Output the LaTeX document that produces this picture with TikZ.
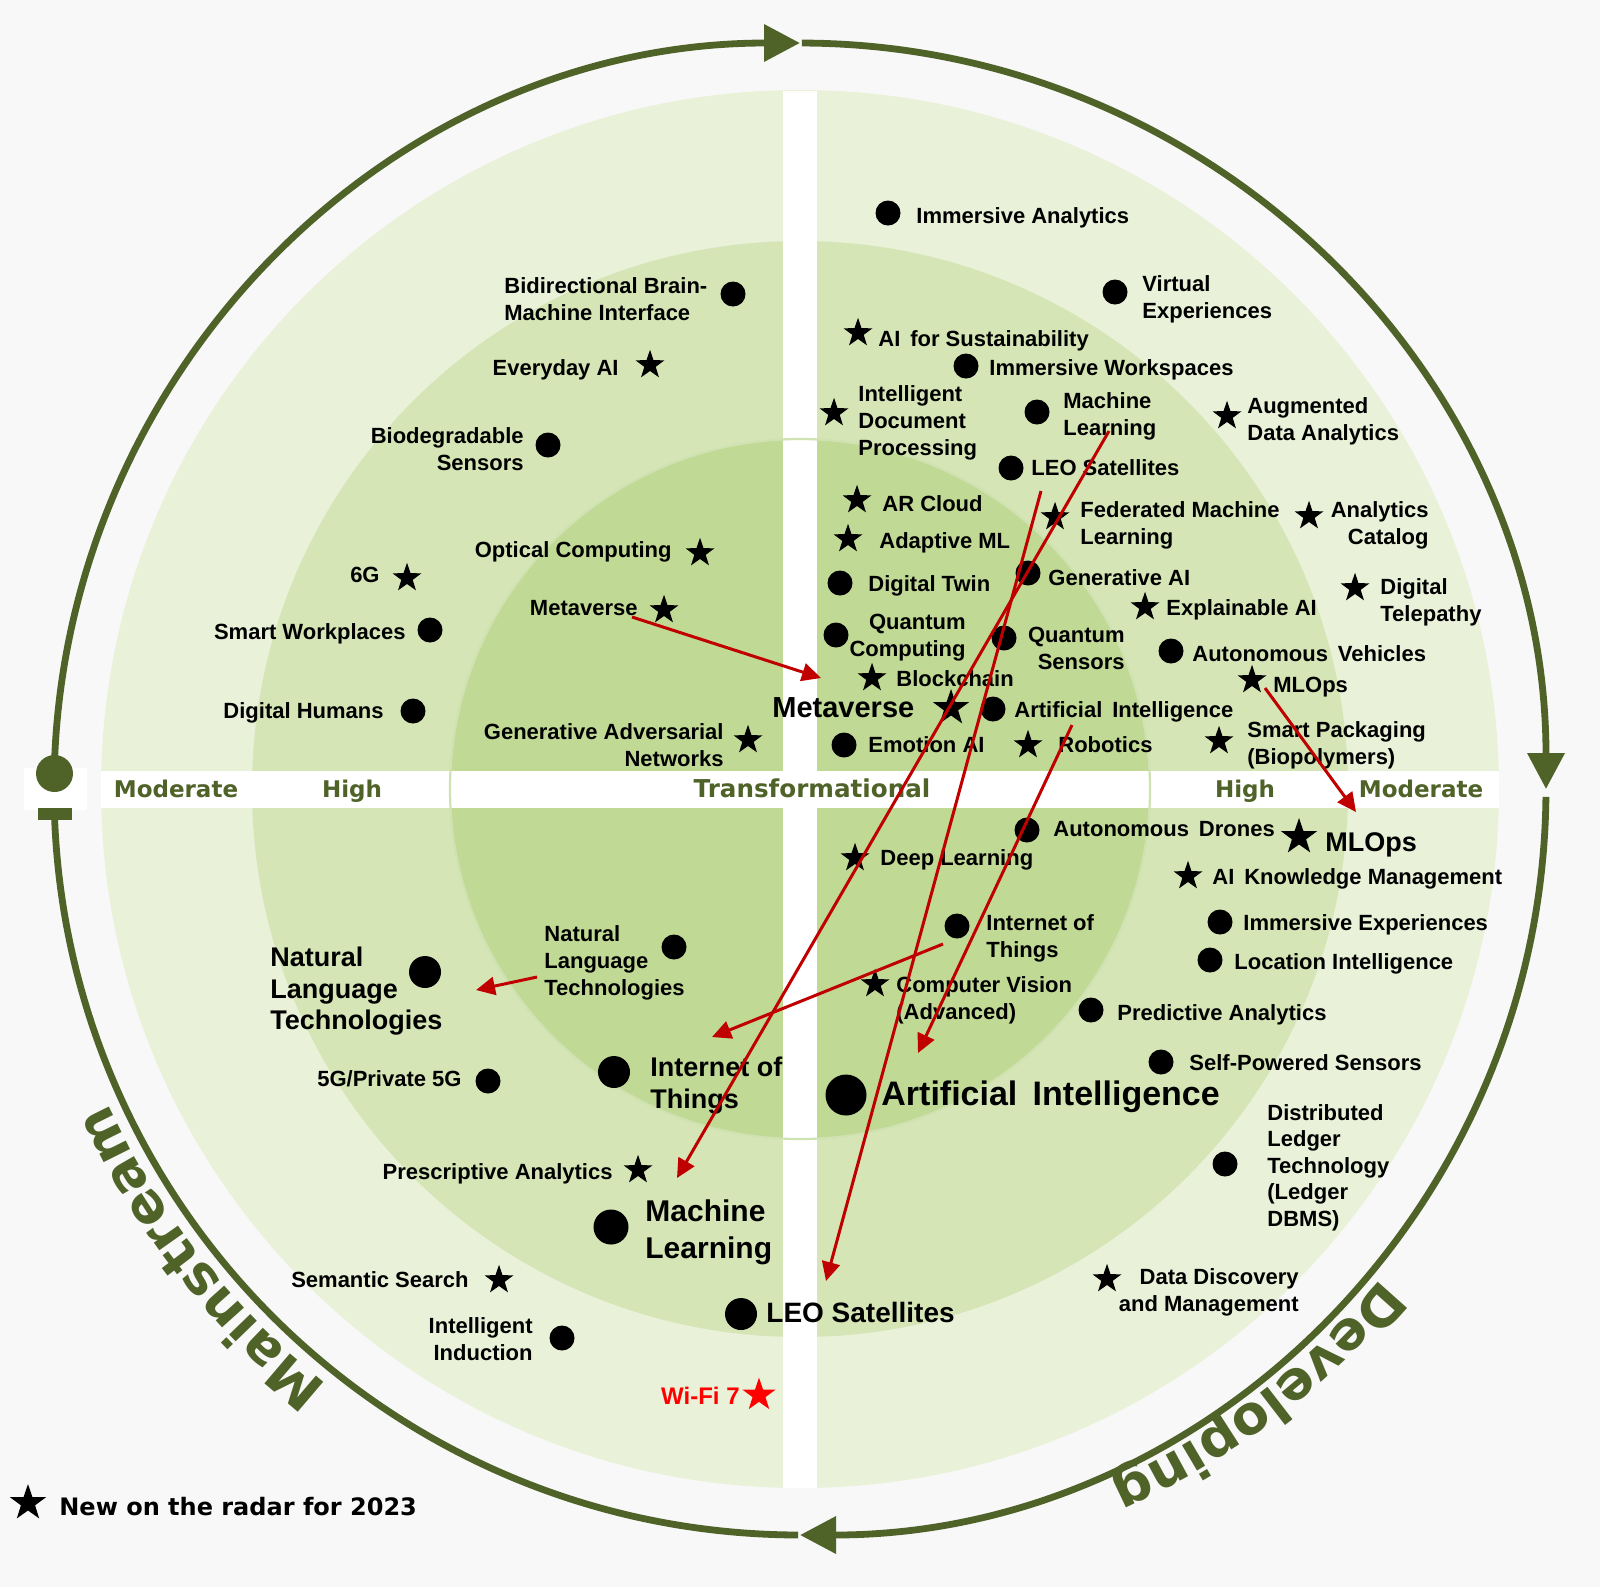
\documentclass[tikz,border=0pt]{standalone}
\usepackage{fontspec}
\setmainfont{Liberation Sans}
\newfontfamily\dvs{DejaVu Sans}
\usetikzlibrary{shapes.geometric,arrows.meta,decorations.text,calc}
\definecolor{bgc}{HTML}{F8F8F8}
\definecolor{ringA}{HTML}{E9F1D9}
\definecolor{ringB}{HTML}{D5E5B6}
\definecolor{ringC}{HTML}{C0D994}
\definecolor{ringEdge}{HTML}{D0E2B2}
\definecolor{dkg}{HTML}{4F6228}
\definecolor{mvred}{HTML}{C00000}
\definecolor{newred}{HTML}{FF0000}
\begin{document}
\begin{tikzpicture}[x=0.5pt,y=0.5pt,
  dot/.style={circle,fill=black,inner sep=0pt,minimum size=12.5pt},
  newstar/.style={star,star points=5,star point ratio=2.55,fill=black,inner sep=0pt,minimum size=15.25pt},
  lbl/.style={font=\fontsize{11}{13.5}\selectfont\bfseries,inner sep=0pt,align=left,anchor=north west},
  lblr/.style={lbl,align=right,anchor=north east},
  bandlbl/.style={font=\dvs\fontsize{11.5}{12}\selectfont\bfseries,text=dkg,inner sep=0pt,anchor=base},
  movearrow/.style={draw=mvred,line width=1.5pt,-{Triangle[length=9.5pt,width=9pt]}},
  ringline/.style={draw=dkg,line width=3.4pt},
  ringtip/.style={-{Triangle[length=18pt,width=18pt]}},
]
\useasboundingbox (0,0) rectangle (1600,-1587);
\fill[bgc] (0,0) rectangle (1600,-1587);
\coordinate (C) at (800,-789);
% zones
\fill[ringA] (C) circle[radius=699];
\fill[ringB] (C) circle[radius=548];
\fill[ringC] (C) circle[radius=350];
\fill[white] (783,-91) rectangle (817,-1488);
\fill[white] (101,-771) rectangle (1499,-808);
\draw[ringEdge,line width=1.1pt] (C) circle[radius=350];
\fill[white] (24,-768) rectangle (87,-810);
% outer ring arrows
\draw[ringline,ringtip] (C) ++(178.8:746) arc[start angle=178.8,end angle=90,radius=746];
\draw[ringline,ringtip] (C) ++(89.85:746) arc[start angle=89.85,end angle=0,radius=746];
\draw[ringline,ringtip] (C) ++(-0.6:746) arc[start angle=-0.6,end angle=-90,radius=746];
\draw[ringline] (C) ++(269.85:746) arc[start angle=269.85,end angle=181.5,radius=746];
\node[circle,fill=dkg,inner sep=0pt,minimum size=18.5pt] (startdot) at (54.5,-773.5) {};
\node[fill=dkg,inner sep=0pt,minimum width=17pt,minimum height=6pt] (endbar) at (55,-814) {};
% curved words
\path[decorate,decoration={text along path,text align=center,text color=dkg,
  text={|\dvs\fontsize{27}{27}\selectfont\bfseries|Mainstream}}]
  ($(C)+(238:760)$) arc[start angle=238,end angle=198,radius=760];
\path[decorate,decoration={text along path,text align=center,text color=dkg,
  text={|\dvs\fontsize{27}{27}\selectfont\bfseries|Developing}}]
  ($(C)+(327:760)$) arc[start angle=327,end angle=287,radius=760];
% band labels
\node[bandlbl] (modL) at (176,-797) {Moderate};
\node[bandlbl] (highL) at (352,-797) {High};
\node[bandlbl,font=\dvs\fontsize{12.3}{13}\selectfont\bfseries] (transf) at (812,-797.5) {Transformational};
\node[bandlbl] (highR) at (1245,-797) {High};
\node[bandlbl] (modR) at (1421,-797) {Moderate};

% ---------- top-left ----------
\node[dot] (bci) at (733,-294) {};
\node[lbl] (bciL) at (504,-277) {Bidirectional Brain-\\Machine Interface};
\node[newstar] (everyday) at (650,-365) {};
\node[lblr] (everydayL) at (619,-359) {Everyday AI};
\node[dot] (biodeg) at (548,-445) {};
\node[lblr] (biodegL) at (524,-427) {Biodegradable\\Sensors};
\node[newstar] (optical) at (700,-553) {};
\node[lblr] (opticalL) at (672,-541) {Optical Computing};
\node[newstar] (sixg) at (407,-578) {};
\node[lblr] (sixgL) at (380,-567) {6G};
\node[newstar] (metaS) at (664,-610) {};
\node[lblr] (metaSL) at (638,-600) {Metaverse};
\node[dot] (smartwp) at (430,-630) {};
\node[lblr] (smartwpL) at (406,-623) {Smart Workplaces};
\node[dot] (dighum) at (413,-711) {};
\node[lblr] (dighumL) at (384,-702) {Digital Humans};
\node[newstar] (gan) at (748,-740) {};
\node[lblr] (ganL) at (724,-723) {Generative Adversarial\\Networks};
\node[newstar,minimum size=19pt] (metaB) at (951,-708) {};
\node[lbl,font=\fontsize{14.5}{17}\selectfont\bfseries] (metaBL) at (772,-697) {Metaverse};

% ---------- top-right ----------
\node[dot] (immana) at (888,-213) {};
\node[lbl] (immanaL) at (916,-207) {Immersive Analytics};
\node[dot] (virtexp) at (1115,-292) {};
\node[lbl] (virtexpL) at (1142,-275) {Virtual\\Experiences};
\node[newstar] (aisus) at (858,-333) {};
\node[lbl] (aisusL) at (878,-330) {AI\hspace{0.45em}for Sustainability};
\node[dot] (immws) at (966,-366) {};
\node[lbl] (immwsL) at (989,-359) {Immersive Workspaces};
\node[newstar] (idp) at (834,-413) {};
\node[lbl] (idpL) at (858,-385) {Intelligent\\Document\\Processing};
\node[dot] (mlS) at (1037,-412) {};
\node[lbl] (mlSL) at (1063,-392) {Machine\\Learning};
\node[newstar] (augda) at (1227,-416) {};
\node[lbl] (augdaL) at (1247,-397) {Augmented\\Data Analytics};
\node[dot] (leoS) at (1011,-468) {};
\node[lbl] (leoSL) at (1031,-459) {LEO Satellites};
\node[newstar] (arcloud) at (857,-500) {};
\node[lbl] (arcloudL) at (882,-495) {AR Cloud};
\node[newstar] (fedml) at (1055,-517) {};
\node[lbl] (fedmlL) at (1080,-501) {Federated Machine\\Learning};
\node[newstar] (anacat) at (1309,-516) {};
\node[lblr] (anacatL) at (1429,-501) {Analytics\\Catalog};
\node[newstar] (adaptml) at (848,-539) {};
\node[lbl] (adaptmlL) at (879,-532) {Adaptive ML};
\node[dot] (digtwin) at (840,-583) {};
\node[lbl] (digtwinL) at (868,-575) {Digital Twin};
\node[dot] (genai) at (1028,-573) {};
\node[lbl] (genaiL) at (1048,-569) {Generative AI};
\node[newstar] (xai) at (1145,-607) {};
\node[lbl] (xaiL) at (1166,-599) {Explainable AI};
\node[newstar] (digtel) at (1355,-588) {};
\node[lbl] (digtelL) at (1380,-578) {Digital\\Telepathy};
\node[dot] (qc) at (836,-635) {};
\node[lblr] (qcL) at (966,-614) {Quantum\\Computing};
\node[dot] (qs) at (1004,-638) {};
\node[lblr] (qsL) at (1125,-627) {Quantum\\Sensors};
\node[dot] (autveh) at (1171,-651) {};
\node[lbl] (autvehL) at (1192,-645) {Autonomous\hspace{0.45em}Vehicles};
\node[newstar] (blockchain) at (872,-678) {};
\node[lbl] (blockchainL) at (896,-670) {Blockchain};
\node[newstar] (mlopsS) at (1252,-680) {};
\node[lbl] (mlopsSL) at (1273,-677) {MLOps};
\node[dot] (aiS) at (993,-709) {};
\node[lbl] (aiSL) at (1014,-701) {Artificial\hspace{0.45em}Intelligence};
\node[newstar] (smartpack) at (1219,-741) {};
\node[lbl] (smartpackL) at (1247,-721) {Smart Packaging\\(Biopolymers)};
\node[dot] (emotion) at (844,-745) {};
\node[lbl] (emotionL) at (868,-736) {Emotion AI};
\node[newstar] (robotics) at (1028,-745) {};
\node[lbl] (roboticsL) at (1058,-736) {Robotics};

% ---------- bottom-right ----------
\node[dot] (autdr) at (1027,-830) {};
\node[lbl] (autdrL) at (1053,-821) {Autonomous\hspace{0.45em}Drones};
\node[newstar,minimum size=19pt] (mlopsB) at (1299,-837) {};
\node[lbl,font=\fontsize{13.5}{16}\selectfont\bfseries] (mlopsBL) at (1325,-832) {MLOps};
\node[newstar] (deepl) at (855,-858) {};
\node[lbl] (deeplL) at (880,-849) {Deep Learning};
\node[newstar] (aikm) at (1188,-876) {};
\node[lbl] (aikmL) at (1212,-868) {AI\hspace{0.45em}Knowledge Management};
\node[dot] (iotS) at (957,-926) {};
\node[lbl] (iotSL) at (986,-914) {Internet of\\Things};
\node[dot] (immexp) at (1220,-922) {};
\node[lbl] (immexpL) at (1243,-914) {Immersive Experiences};
\node[dot] (locint) at (1210,-960) {};
\node[lbl] (locintL) at (1234,-953) {Location Intelligence};
\node[newstar] (cv) at (875,-984) {};
\node[lbl] (cvL) at (896,-976) {Computer Vision\\(Advanced)};
\node[dot] (predan) at (1091,-1010) {};
\node[lbl] (predanL) at (1117,-1004) {Predictive Analytics};
\node[dot] (selfpow) at (1161,-1062) {};
\node[lbl] (selfpowL) at (1189,-1054) {Self-Powered Sensors};
\node[dot,minimum size=20.5pt] (aiB) at (846,-1095) {};
\node[lbl,font=\fontsize{17}{20}\selectfont\bfseries] (aiBL) at (881,-1080) {Artificial\hspace{0.45em}Intelligence};
\node[dot] (dlt) at (1225,-1164) {};
\node[lbl,font=\fontsize{11}{13.25}\selectfont\bfseries] (dltL) at (1267,-1104) {Distributed\\Ledger\\Technology\\(Ledger\\DBMS)};
\node[newstar] (ddm) at (1107,-1279) {};
\node[lblr] (ddmL) at (1299,-1268) {Data Discovery\\and Management};
\node[dot,minimum size=16pt] (leoB) at (741,-1314) {};
\node[lbl,font=\fontsize{14}{17}\selectfont\bfseries] (leoBL) at (766,-1302) {LEO Satellites};

% ---------- bottom-left ----------
\node[dot,minimum size=16pt] (nltB) at (425,-972) {};
\node[lbl,font=\fontsize{13.5}{15.75}\selectfont\bfseries] (nltBL) at (270,-947) {Natural\\Language\\Technologies};
\node[dot] (nltS) at (674,-947) {};
\node[lbl] (nltSL) at (544,-925) {Natural\\Language\\Technologies};
\node[dot] (fiveg) at (488,-1081) {};
\node[lblr] (fivegL) at (462,-1070) {5G/Private 5G};
\node[dot,minimum size=16pt] (iotB) at (614,-1072) {};
\node[lbl,font=\fontsize{13.5}{16}\selectfont\bfseries] (iotBL) at (650,-1057) {Internet of\\Things};
\node[newstar] (presc) at (638,-1170) {};
\node[lblr] (prescL) at (613,-1163) {Prescriptive Analytics};
\node[dot,minimum size=17.5pt] (mlB) at (611,-1227) {};
\node[lbl,font=\fontsize{15}{18.5}\selectfont\bfseries] (mlBL) at (645,-1199) {Machine\\Learning};
\node[newstar] (semsearch) at (499,-1280) {};
\node[lblr] (semsearchL) at (469,-1271) {Semantic Search};
\node[dot] (intind) at (562,-1338) {};
\node[lblr] (intindL) at (533,-1317) {Intelligent\\Induction};
\node[newstar,fill=newred,minimum size=17.4pt] (wifi) at (759,-1395) {};
\node[font=\fontsize{12}{14}\selectfont\bfseries,text=newred,inner sep=0pt,anchor=base east] (wifiL) at (740,-1404) {Wi-Fi 7};

% legend
\node[newstar,minimum size=19pt] (legstar) at (28,-1503) {};
\node[font=\dvs\fontsize{12}{14}\selectfont\bfseries,inner sep=0pt,anchor=base west] (legL) at (59,-1515) {New on the radar for 2023};

% movement arrows
\coordinate (mvS) at (632,-617);  \coordinate (mvE) at (821,-678);
\coordinate (mlA) at (1109,-431); \coordinate (mlZ) at (677,-1178);
\coordinate (leoA) at (1041,-491); \coordinate (leoZ) at (826,-1281);
\coordinate (aiA) at (1072,-725); \coordinate (aiZ) at (918,-1053);
\coordinate (mloA) at (1265,-688); \coordinate (mloZ) at (1356,-812);
\coordinate (iotA) at (943,-944); \coordinate (iotZ) at (712,-1037);
\coordinate (nltA) at (537,-977); \coordinate (nltZ) at (476,-990);
\draw[movearrow] (mvS) -- (mvE);
\draw[movearrow] (mlA) -- (mlZ);
\draw[movearrow] (leoA) -- (leoZ);
\draw[movearrow] (aiA) -- (aiZ);
\draw[movearrow] (mloA) -- (mloZ);
\draw[movearrow] (iotA) -- (iotZ);
\draw[movearrow] (nltA) -- (nltZ);
\end{tikzpicture}
\end{document}
